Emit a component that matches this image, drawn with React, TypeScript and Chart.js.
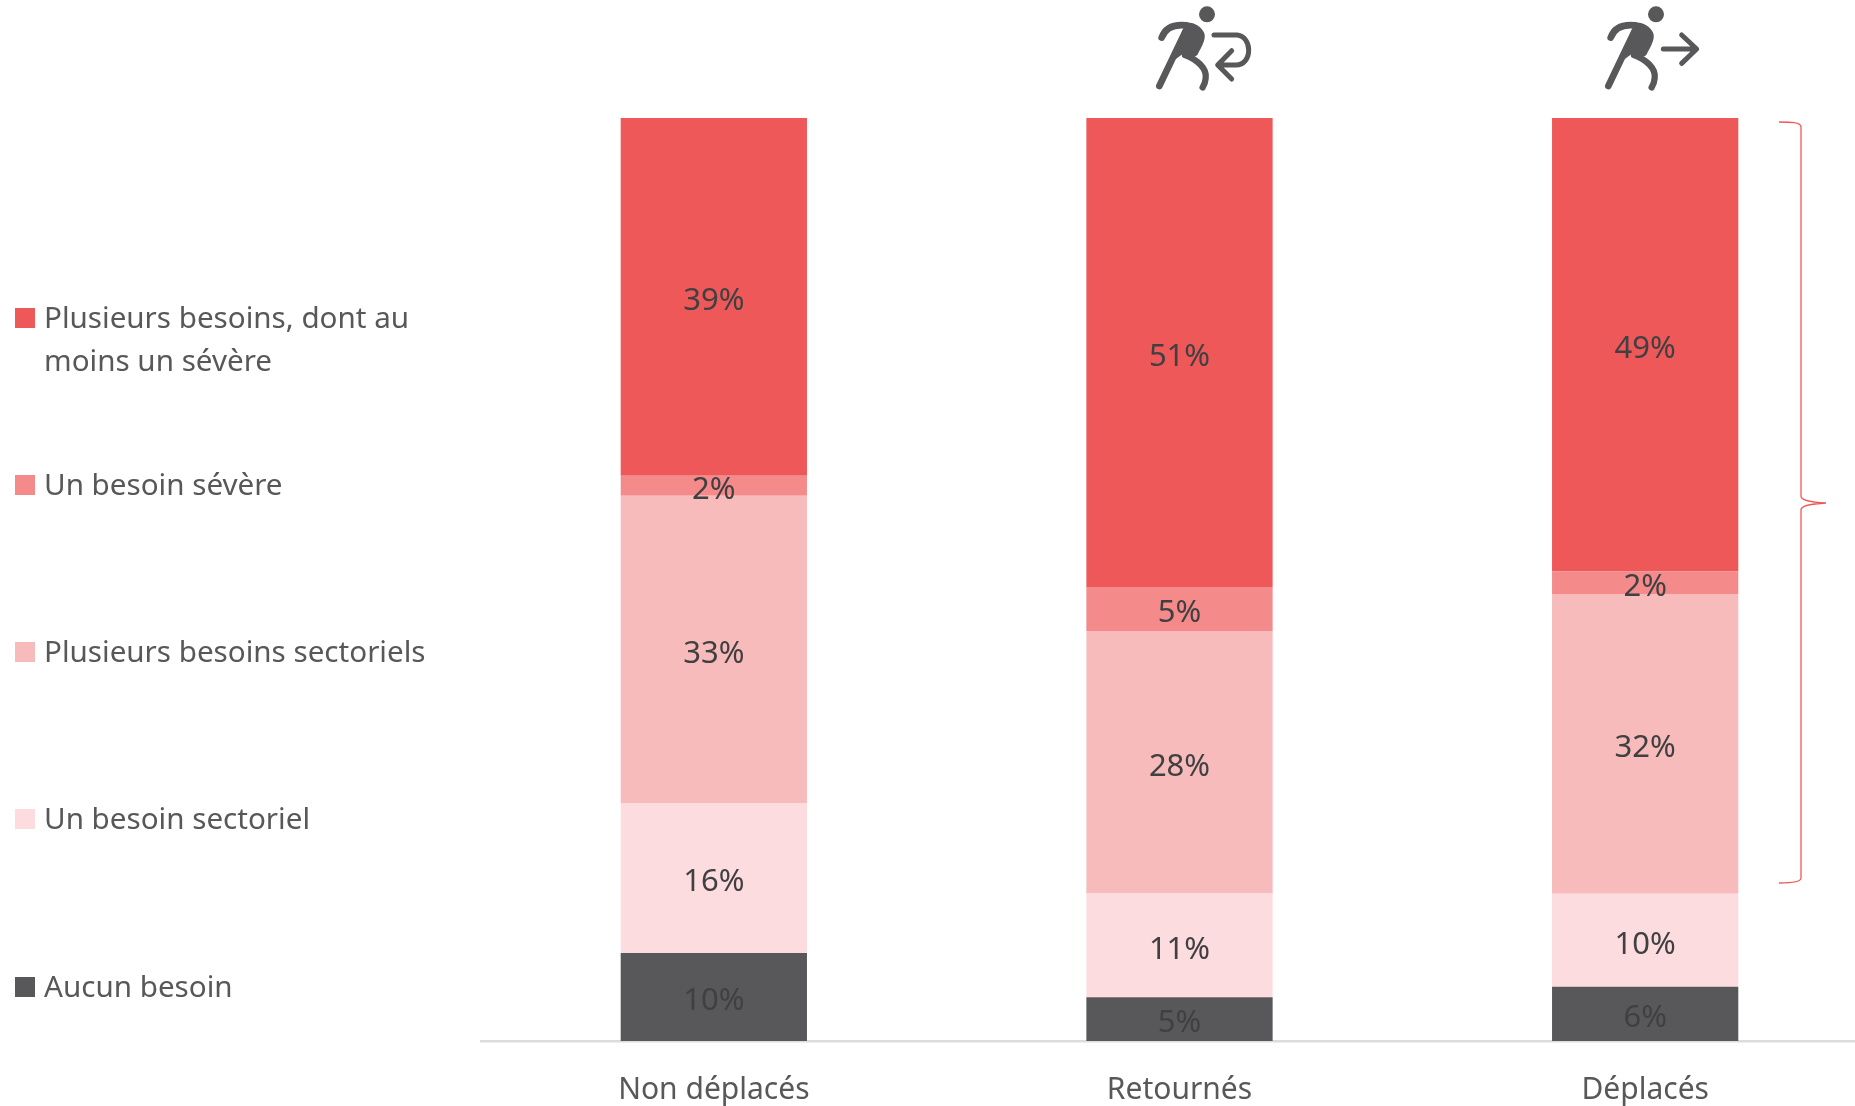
import React, { useEffect, useRef } from "react";
import { Chart, registerables } from "chart.js";

Chart.register(...registerables);

const categories = ["Non déplacés", "Retournés", "Déplacés"];
const seriesNames = [
  "Aucun besoin",
  "Un besoin sectoriel",
  "Plusieurs besoins sectoriels",
  "Un besoin sévère",
  "Plusieurs besoins, dont au moins un sévère",
];
const aucunBesoin = [9.53, 4.73, 5.88];
const unBesoinSectoriel = [16.25, 11.25, 10.08];
const plusieursSectoriels = [33.3, 28.45, 32.47];
const unBesoinSevere = [2.17, 4.77, 2.44];
const plusieursSevere = [38.75, 50.8, 49.13];
const displayLabels = [
  ["10%", "5%", "6%"],
  ["16%", "11%", "10%"],
  ["33%", "28%", "32%"],
  ["2%", "5%", "2%"],
  ["39%", "51%", "49%"],
];
const colors = ["#58585a", "#fcdcde", "#f7bbbb", "#f58a8b", "#ee5859"];
const legendLines = [
  ["Plusieurs besoins, dont au", "moins un sévère"],
  ["Un besoin sévère"],
  ["Plusieurs besoins sectoriels"],
  ["Un besoin sectoriel"],
  ["Aucun besoin"],
];
const legendColors = ["#ee5859", "#f58a8b", "#f7bbbb", "#fcdcde", "#58585a"];
const legendY = [318, 485, 652, 819, 987];

const FONT = '"Noto Sans", "Open Sans", sans-serif';

const overlayPlugin = {
  id: "overlay",
  afterDatasetsDraw(chart: any) {
    const ctx = chart.ctx;
    ctx.save();
    ctx.textBaseline = "middle";
    ctx.textAlign = "center";
    ctx.font = `31px ${FONT}`;
    ctx.fillStyle = "#404042";
    chart.data.datasets.forEach((_: any, i: number) => {
      chart.getDatasetMeta(i).data.forEach((bar: any, j: number) => {
        ctx.fillText(displayLabels[i][j], bar.x, (bar.y + bar.base) / 2 + 4.5);
      });
    });
    ctx.textAlign = "left";
    ctx.font = `29.6px ${FONT}`;
    ctx.fillStyle = "#58585a";
    legendLines.forEach((lines, i) => {
      ctx.save();
      ctx.fillStyle = legendColors[i];
      ctx.fillRect(15, legendY[i] - 10, 20, 20);
      ctx.restore();
      lines.forEach((line, k) => {
        ctx.fillText(line, 44, legendY[i] + 2 + k * 43);
      });
    });
    ctx.restore();
  },
};

function Icon({ left, arrow }: { left: number; arrow: "back" | "go" }) {
  const shift = arrow === "go" ? 3 : 0;
  return (
    <svg
      width={110}
      height={100}
      viewBox="0 0 330 300"
      style={{ position: "absolute", left, top: 0 }}
    >
      <ellipse cx={171} cy={43} rx={24} ry={24} fill="#58585a" />
      <path
        d="M110 68 C130 66 155 80 163 100 C168 118 158 135 142 165 C130 175 105 165 97 163 L62 188 L100 85 Z"
        fill="#58585a"
      />
      <path
        d="M35 113 C45 85 70 72 108 76"
        fill="none"
        stroke="#58585a"
        strokeWidth={20}
        strokeLinecap="round"
      />
      <path
        d="M106 95 L28 258"
        fill="none"
        stroke="#58585a"
        strokeWidth={20}
        strokeLinecap="round"
      />
      <path
        d="M105 165 C140 178 172 205 167 235 C166 246 163 255 158 262"
        fill="none"
        stroke="#58585a"
        strokeWidth={19}
        strokeLinecap="round"
      />
      {arrow === "go" ? (
        <path
          d={`M${190 + shift} 147 L${287 + shift} 147 M${245 + shift} 105 L${290 + shift} 147 L${245 + shift} 190`}
          fill="none"
          stroke="#58585a"
          strokeWidth={15}
          strokeLinecap="round"
          strokeLinejoin="round"
        />
      ) : (
        <path
          d="M192 105 L262 105 C284 108 296 128 296 150 C296 175 282 195 258 195 L205 195 M245 152 L203 195 L245 237"
          fill="none"
          stroke="#58585a"
          strokeWidth={15}
          strokeLinecap="round"
          strokeLinejoin="round"
        />
      )}
    </svg>
  );
}

export default function App() {
  const ref = useRef<HTMLCanvasElement>(null);
  useEffect(() => {
    const values = [
      aucunBesoin,
      unBesoinSectoriel,
      plusieursSectoriels,
      unBesoinSevere,
      plusieursSevere,
    ];
    const chart = new Chart(ref.current!, {
      type: "bar",
      data: {
        labels: categories,
        datasets: values.map((data, i) => ({
          label: seriesNames[i],
          data,
          backgroundColor: colors[i],
          borderWidth: 0,
          categoryPercentage: 0.4,
          barPercentage: 1,
        })),
      },
      options: {
        responsive: false,
        animation: false,
        layout: { padding: { left: 481, top: 118, right: 0, bottom: 0 } },
        plugins: { legend: { display: false }, tooltip: { enabled: false } },
        scales: {
          x: {
            stacked: true,
            grid: { display: false, drawTicks: false },
            border: { color: "#dcdcdc", width: 2.5 },
            ticks: {
              color: "#58585a",
              font: { family: FONT, size: 30 },
              padding: 31,
              maxRotation: 0,
            },
          },
          y: {
            stacked: true,
            display: false,
            min: 0,
            max: 100,
          },
        },
      },
      plugins: [overlayPlugin],
    });
    return () => chart.destroy();
  }, []);
  return (
    <div
      style={{
        position: "absolute",
        left: 0,
        top: 0,
        width: 1855,
        height: 1106,
        overflow: "hidden",
        background: "#fff",
      }}
    >
      <canvas
        ref={ref}
        width={1878}
        height={1139}
        style={{ position: "absolute", left: 0, top: 0, width: 1878, height: 1139 }}
      />
      <Icon left={1150} arrow="back" />
      <Icon left={1599} arrow="go" />
      <svg
        width={1855}
        height={1106}
        style={{ position: "absolute", left: 0, top: 0 }}
      >
        <path
          d="M1779 122 C1790 122 1801 122 1801 127 L1801 496 C1801 500 1808 502 1826 503 C1808 504 1801 506 1801 510 L1801 878 C1801 882 1790 883 1779 883"
          fill="none"
          stroke="#ee5859"
          strokeWidth={1.3}
        />
      </svg>
    </div>
  );
}
